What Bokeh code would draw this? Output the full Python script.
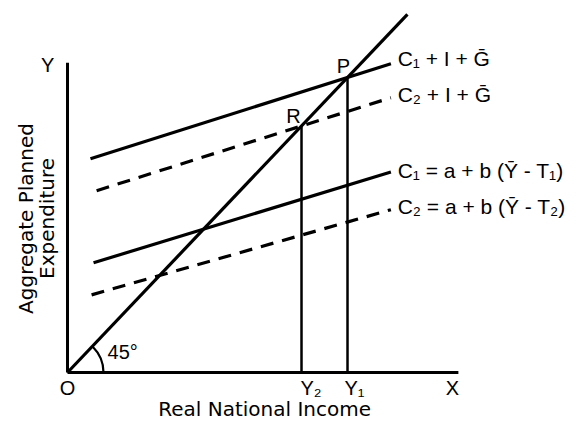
import numpy as np
from bokeh.plotting import figure
from bokeh.models import Range1d
from bokeh.core.properties import value
from bokeh.embed import file_html
from bokeh.resources import INLINE

# ---- data (expenditure / income units) ----
schedule_labels = ["C\u2081 + I + G\u0304", "C\u2082 + I + G\u0304",
                   "C\u2081 = a + b (Y\u0304 - T\u2081)", "C\u2082 = a + b (Y\u0304 - T\u2082)"]
intercepts = [70.0, 58.5, 34.5, 24.0]
slopes = [0.30, 0.30, 0.29, 0.27]
x_start = [8.2, 10.4, 9.3, 8.6]
x_end = [115.5, 115.5, 115.5, 115.5]
dashed = [False, True, False, True]
label_dy = [5, 3, 1, 3]          # screen px above line end

line45_max = 121.4
x_axis_max = 139.6
y_axis_max = 105.0

# equilibria: 45-degree line meets aggregate expenditure schedules
eq_labels = ["Y\u2081", "Y\u2082"]
eq_points = ["P", "R"]
eq_intercepts = [intercepts[0], intercepts[1]]
eq_slopes = [slopes[0], slopes[1]]

FONT = value("Liberation Sans")
TFONT = value("DejaVu Sans")

p = figure(width=573, height=421, output_backend="svg", toolbar_location=None,
           x_range=Range1d(-23.93, 180.71), y_range=Range1d(-16.61, 126.1),
           min_border=0)
p.axis.visible = False
p.grid.visible = False
p.outline_line_color = None
p.background_fill_color = "white"

# axes
p.line([0, 0], [0, y_axis_max], line_color="black", line_width=3)
p.line([0, x_axis_max], [0, 0], line_color="black", line_width=3)

# 45-degree line
p.line([0, line45_max], [0, line45_max], line_color="black", line_width=3.2)

# schedules
for a, b, xs, xe, d in zip(intercepts, slopes, x_start, x_end, dashed):
    xx = np.array([xs, xe])
    p.line(xx, a + b * xx, line_color="black", line_width=3.2,
           line_dash="13 9" if d else "solid")

# equilibrium verticals
eq_x = [a / (1 - b) for a, b in zip(eq_intercepts, eq_slopes)]
for ex in eq_x:
    p.line([ex, ex], [0, ex], line_color="black", line_width=2.5)

# 45 degree arc
p.arc(x=0, y=0, radius=36, radius_units="screen", start_angle=0,
      end_angle=np.pi / 4, line_color="black", line_width=2.2)

# schedule labels
ends_y = [a + b * xe for a, b, xe in zip(intercepts, slopes, x_end)]
p.text(x=[xe + 2.4 for xe in x_end], y=ends_y, text=schedule_labels,
       y_offset=[-d for d in label_dy],
       text_font=FONT, text_font_size=value("21px"), text_align="left",
       text_baseline="middle", text_color="black")

# point labels P, R
p.text(x=eq_x, y=eq_x, text=eq_points, x_offset=[-4, -8], y_offset=[-11, -10],
       text_font=FONT, text_font_size=value("20px"), text_align="center",
       text_baseline="middle", text_color="black")

# income labels
p.text(x=eq_x, y=[0, 0], text=eq_labels, x_offset=[-3, -1], y_offset=[16, 16],
       text_font=FONT, text_font_size=value("20px"), text_align="left",
       text_baseline="middle", text_color="black")

# axis letters
p.text(x=[0, x_axis_max - 2.1, -7.1], y=[0, 0, y_axis_max], text=["O", "X", "Y"],
       y_offset=[16, 16, 2],
       text_font=FONT, text_font_size=value("20px"), text_align="center",
       text_baseline="middle", text_color="black")

# 45 degree label
p.text(x=[14.3], y=[6.8], text=["45\u00b0"], text_font=FONT,
       text_font_size=value("20px"), text_align="left", text_baseline="middle",
       text_color="black")

# axis titles
p.text(x=[70.4], y=[-12.54], text=["Real National Income"], text_font=TFONT,
       text_font_size=value("20px"), text_align="center", text_baseline="middle",
       text_color="black")
p.text(x=[-14.9, -7.4], y=[52.2, 52.2], text=["Aggregate Planned", "Expenditure"],
       angle=np.pi / 2, text_font=TFONT, text_font_size=value("20px"),
       text_align="center", text_baseline="alphabetic", text_color="black")

open("out.html", "w").write(file_html(p, INLINE))
